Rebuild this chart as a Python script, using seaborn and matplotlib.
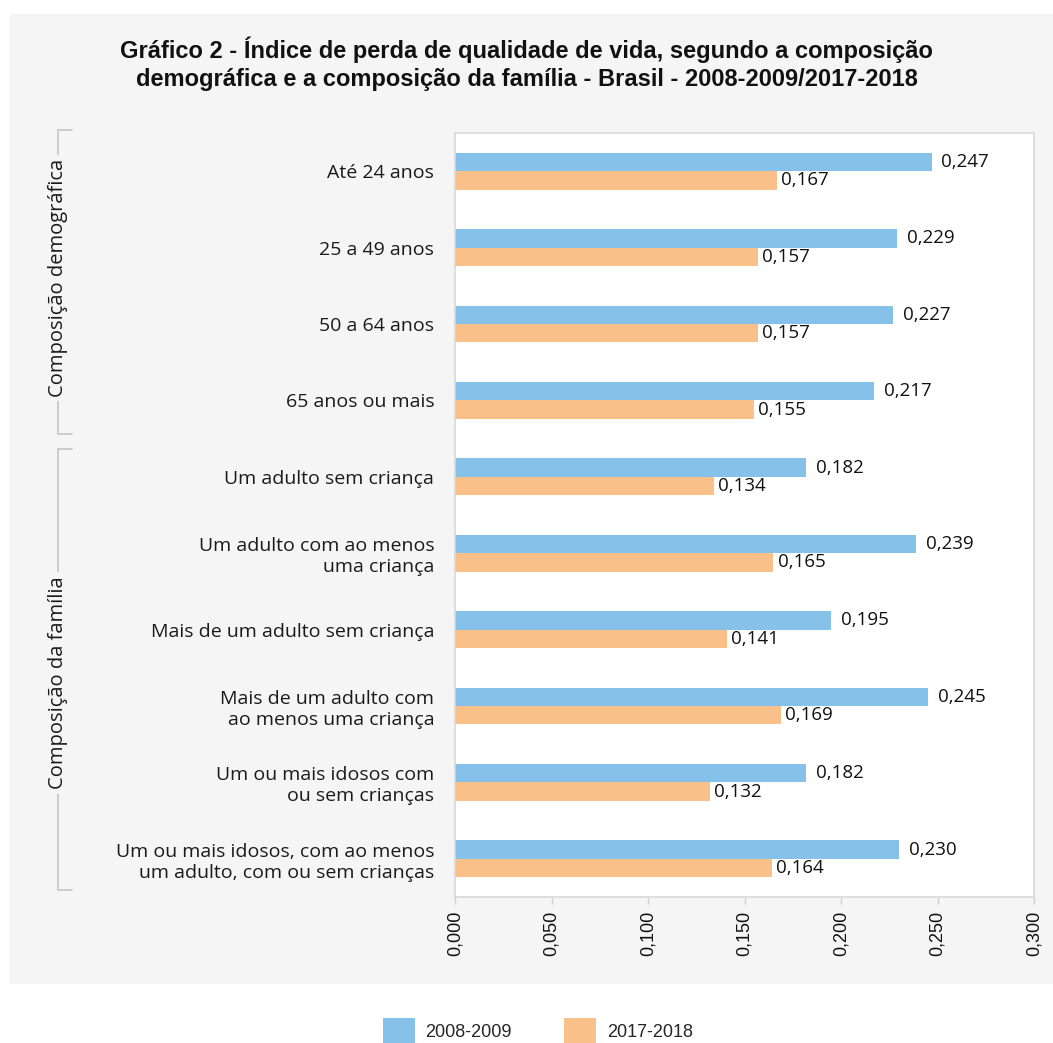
import matplotlib
matplotlib.use("Agg")
import matplotlib.pyplot as plt
import seaborn as sns
import pandas as pd
from matplotlib.patches import Rectangle, Patch
from matplotlib.lines import Line2D
from matplotlib import font_manager

categories = [
    "Até 24 anos",
    "25 a 49 anos",
    "50 a 64 anos",
    "65 anos ou mais",
    "Um adulto sem criança",
    "Um adulto com ao menos\numa criança",
    "Mais de um adulto sem criança",
    "Mais de um adulto com\nao menos uma criança",
    "Um ou mais idosos com\nou sem crianças",
    "Um ou mais idosos, com ao menos\num adulto, com ou sem crianças",
]
series_names = ["2008-2009", "2017-2018"]
values_2008 = [0.247, 0.229, 0.227, 0.217, 0.182, 0.239, 0.195, 0.245, 0.182, 0.230]
values_2017 = [0.167, 0.157, 0.157, 0.155, 0.134, 0.165, 0.141, 0.169, 0.132, 0.164]
x_ticks = [0.0, 0.05, 0.10, 0.15, 0.20, 0.25, 0.30]
group_names = ["Composição demográfica", "Composição da família"]

colors = ["#85C1E9", "#FAC08A"]

df = pd.DataFrame({
    "cat": categories * 2,
    "serie": [series_names[0]] * len(categories) + [series_names[1]] * len(categories),
    "val": values_2008 + values_2017,
})

sns.set_theme(style="white")
plt.rcParams['font.family'] = ['Open Sans', 'DejaVu Sans']

avail = {f.name for f in font_manager.fontManager.ttflist}
narrow = 'Liberation Sans Narrow' in avail
title_family = ['Liberation Sans Narrow', 'Liberation Sans', 'DejaVu Sans'] if narrow else ['Liberation Sans', 'DejaVu Sans']
title_size = 20.7 if narrow else 17

W, H = 1053, 1043
fig = plt.figure(figsize=(W / 100, H / 100), dpi=100, facecolor="white")
fig.patches.append(Rectangle((10 / W, 1 - 984 / H), 1 - 10 / W, (984 - 14) / H,
                             transform=fig.transFigure, facecolor="#F5F5F5",
                             edgecolor="none", zorder=-10))

ax = fig.add_axes([455 / W, 1 - 897 / H, (1034 - 455) / W, (897 - 133) / H])
sns.barplot(data=df, y="cat", x="val", hue="serie", palette=colors, orient="h",
            width=0.48, ax=ax, legend=False, saturation=1, edgecolor="none")
ax.set_facecolor("white")
ax.set_xlim(0, 0.3)
ax.set_ylim(len(categories) - 0.5, -0.5)
ax.set_xticks(x_ticks)
ax.set_xticklabels([f"{t:.3f}".replace(".", ",") for t in x_ticks],
                   rotation=90, fontsize=13, family=['Liberation Sans', 'DejaVu Sans'],
                   color="#111111")
ax.set_yticks(range(len(categories)))
ax.set_yticklabels(categories, fontsize=14, color="#1a1a1a", ha="right",
                   multialignment="right", linespacing=1.2)
ax.tick_params(axis="y", length=0, pad=15)
ax.tick_params(axis="x", length=5, width=1, color="#D0D0D0", pad=5, bottom=True)
ax.set_xlabel("")
ax.set_ylabel("")
for s in ax.spines.values():
    s.set_color("#D9D9D9")
    s.set_linewidth(1.2)

for i, cont in enumerate(ax.containers):
    vals = values_2008 if i == 0 else values_2017
    ax.bar_label(cont, labels=[f"{v:.3f}".replace(".", ",") for v in vals],
                 padding=7 if i == 0 else 3, fontsize=13.5, color="#111111")

fig.text(0.5, 1 - 64 / H,
         "Gráfico 2 - Índice de perda de qualidade de vida, segundo a composição\n"
         "demográfica e a composição da família - Brasil - 2008-2009/2017-2018",
         ha="center", va="center", fontsize=title_size, fontweight="bold",
         family=title_family, linespacing=1.3, color="#111111")

bx = 58 / W
stub = 14 / W
bcol = "#C8C8C8"
brackets = [(130, 434, 278), (449, 890, 683)]
for (y0, y1, yc), name in zip(brackets, group_names):
    fy0, fy1 = 1 - y0 / H, 1 - y1 / H
    fig.add_artist(Line2D([bx + stub, bx, bx, bx + stub], [fy0, fy0, fy1, fy1],
                          transform=fig.transFigure, color=bcol, lw=1.3))
    fig.text(bx, 1 - yc / H, name, rotation=90, ha="center", va="center",
             fontsize=14.5, color="#1a1a1a",
             bbox=dict(facecolor="#F5F5F5", edgecolor="none", pad=3))

handles = [Patch(facecolor=c, edgecolor="none", label=n) for c, n in zip(colors, series_names)]
fig.legend(handles=handles, loc="center", bbox_to_anchor=(538 / W, 1 - 1031 / H), ncol=2,
           frameon=False, handlelength=1.75, handleheight=1.9,
           handletextpad=0.6, columnspacing=2.9,
           prop={'family': ['Liberation Sans', 'DejaVu Sans'], 'size': 13})

fig.savefig("out.png", dpi=100, facecolor="white")
